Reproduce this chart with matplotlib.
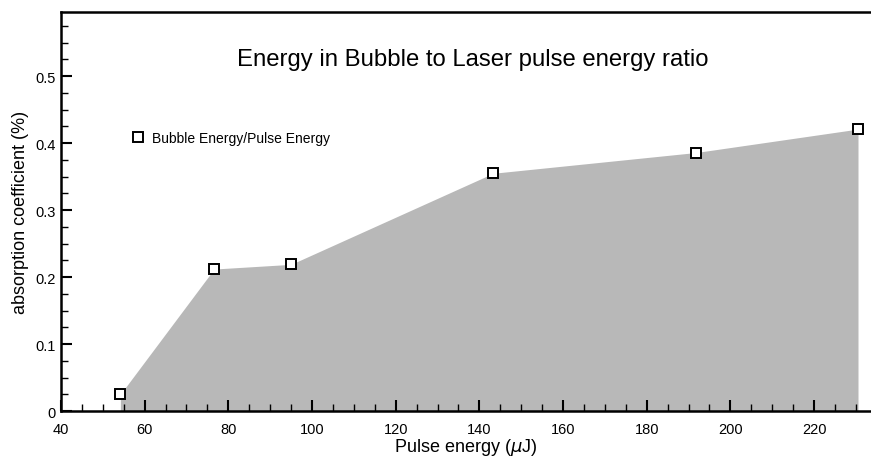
import matplotlib
matplotlib.use('Agg')
import matplotlib.pyplot as plt
from matplotlib.ticker import MultipleLocator

plt.rcParams['font.family'] = ['Liberation Sans', 'DejaVu Sans']

# data
pulse_energy = [54.2, 76.6, 95.0, 143.3, 191.8, 230.5]
ratio = [0.025, 0.212, 0.219, 0.355, 0.386, 0.421]
title_text = 'Energy in Bubble to Laser pulse energy ratio'
legend_label = 'Bubble Energy/Pulse Energy'

fig = plt.figure(figsize=(8.71, 4.6), dpi=100)
ax = fig.add_axes([0.070, 0.1043, 0.929, 0.867])

ax.fill_between(pulse_energy, ratio, 0, color='#b8b8b8', linewidth=0, zorder=1)
ax.plot(pulse_energy, ratio, linestyle='none', marker='s', markersize=7.6,
        markerfacecolor='white', markeredgecolor='black', markeredgewidth=1.4,
        label=legend_label, zorder=3, clip_on=False)

ax.set_xlim(40, 233.4)
ax.set_ylim(0, 0.5955)

ax.xaxis.set_major_locator(MultipleLocator(20))
ax.xaxis.set_minor_locator(MultipleLocator(5))
ax.yaxis.set_minor_locator(MultipleLocator(0.025))
ax.set_yticks([0, 0.1, 0.2, 0.3, 0.4, 0.5])
ax.set_yticklabels(['0', '0.1', '0.2', '0.3', '0.4', '0.5'])

ax.tick_params(which='both', direction='in', top=False, right=False, labelsize=10.5)
ax.tick_params(which='major', length=8, width=1.5)
ax.tick_params(which='minor', length=5, width=1)
ax.tick_params(axis='x', pad=8)

for side in ['left', 'bottom', 'top']:
    ax.spines[side].set_linewidth(1.8)
ax.spines['right'].set_visible(False)

ax.set_xlabel('Pulse energy ($\\mu$J)', fontsize=13, labelpad=0)
ax.set_ylabel('absorption coefficient (%)', fontsize=13, labelpad=5)

ax.text(0.509, 0.882, title_text, transform=ax.transAxes, ha='center', va='center',
        fontsize=17.2)

ax.legend(loc='center left', bbox_to_anchor=(0.0865, 0.684), frameon=False,
          fontsize=10, handlelength=1, handletextpad=0.5, borderpad=0,
          borderaxespad=0, numpoints=1)

plt.savefig('out.png', dpi=100)
